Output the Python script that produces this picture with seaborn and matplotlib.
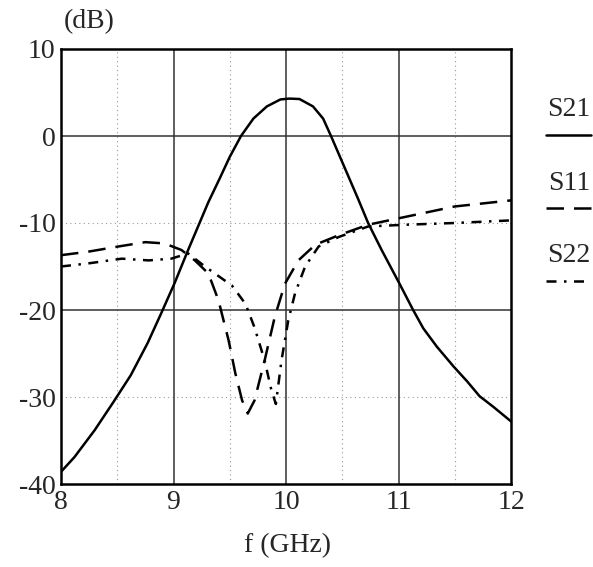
import numpy as np
import pandas as pd
import matplotlib
matplotlib.use("Agg")
import matplotlib.pyplot as plt
from matplotlib.lines import Line2D
import seaborn as sns

# ---- data ----
f_s21 = [8.0, 8.12, 8.30, 8.47, 8.62, 8.77, 8.89, 9.01, 9.13, 9.31, 9.41, 9.50, 9.60,
         9.71, 9.83, 9.95, 10.03, 10.12, 10.24, 10.33, 10.40, 10.48, 10.64, 10.73,
         10.85, 11.01, 11.13, 11.22, 11.34, 11.49, 11.61, 11.72, 11.84, 12.0]
s21 = [-38.6, -36.9, -33.8, -30.5, -27.5, -23.8, -20.4, -16.9, -13.1, -7.6, -4.9,
       -2.4, 0.0, 2.0, 3.4, 4.2, 4.3, 4.25, 3.4, 2.0, 0.0, -2.4, -7.2, -10.0, -13.1,
       -17.0, -20.0, -22.1, -24.2, -26.5, -28.2, -29.9, -31.1, -32.8]

f_s11 = [8.0, 8.24, 8.51, 8.75, 8.92, 9.07, 9.19, 9.31, 9.40, 9.49, 9.55, 9.61, 9.66,
         9.72, 9.81, 9.90, 9.99, 10.11, 10.26, 10.47, 10.73, 11.06, 11.5, 12.0]
s11 = [-13.7, -13.3, -12.7, -12.2, -12.35, -13.1, -14.3, -15.8, -18.9, -23.5, -27.3,
       -30.4, -31.9, -30.4, -25.8, -20.8, -17.0, -14.3, -12.5, -11.4, -10.2, -9.3, -8.1, -7.4]

f_s22 = [8.0, 8.24, 8.54, 8.78, 8.98, 9.13, 9.28, 9.52, 9.64, 9.72, 9.81, 9.87, 9.91,
         9.96, 10.02, 10.08, 10.17, 10.29, 10.47, 10.73, 11.06, 11.5, 12.0]
s22 = [-15.0, -14.65, -14.1, -14.3, -14.1, -13.5, -15.0, -17.2, -19.3, -22.0, -25.8,
       -29.2, -30.8, -25.8, -21.2, -18.1, -15.0, -12.7, -11.6, -10.4, -10.2, -10.0, -9.7]

x_ticks = [8, 9, 10, 11, 12]
y_ticks = [10, 0, -10, -20, -30, -40]
series_names = ["S21", "S11", "S22"]

df = pd.concat([
    pd.DataFrame({"f": f_s21, "dB": s21, "param": "S21"}),
    pd.DataFrame({"f": f_s11, "dB": s11, "param": "S11"}),
    pd.DataFrame({"f": f_s22, "dB": s22, "param": "S22"}),
], ignore_index=True)

sns.set_style("white")
plt.rcParams["font.family"] = ["Liberation Serif", "DejaVu Serif"]
plt.rcParams["lines.solid_joinstyle"] = "round"

fig = plt.figure(figsize=(5.93, 5.67), dpi=100)
ax = fig.add_axes([61/593, 1-484/567, 450/593, 435/567])

styles = {"S21": "-", "S11": (0, (7, 4)), "S22": (0, (4, 3, 1, 3))}

# grid
for v in [8.5, 9.5, 10.5, 11.5]:
    ax.axvline(v, color="#999999", lw=0.8, ls=(0, (1, 3)), zorder=0)
for v in [-10, -30]:
    ax.axhline(v, color="#999999", lw=0.8, ls=(0, (1, 3)), zorder=0)
for v in [9, 10, 11]:
    ax.axvline(v, color="#333333", lw=1.1, zorder=0)
for v in [0, -20]:
    ax.axhline(v, color="#333333", lw=1.1, zorder=0)

for name in series_names:
    sub = df[df["param"] == name]
    sns.lineplot(data=sub, x="f", y="dB", ax=ax, color="black", lw=1.8,
                 linestyle=styles[name], sort=False, estimator=None)

ax.set_xlim(8, 12)
ax.set_ylim(-40, 10)
ax.set_xticks(x_ticks)
ax.set_yticks(y_ticks)
ax.set_xticklabels([str(t) for t in x_ticks])
ax.set_yticklabels([str(t) for t in y_ticks])
ax.tick_params(length=0, labelsize=20, pad=4)
ax.set_xlabel("")
ax.set_ylabel("")
for sp in ax.spines.values():
    sp.set_color("black")
    sp.set_linewidth(1.8)

fig.text(89/593, 1-22/567, "(dB)", fontsize=20, ha="center", va="center")
fig.text(288/593, 1-546/567, "f (GHz)", fontsize=20, ha="center", va="center")

# legend (label above its line sample)
leg_y = [110, 183, 256]
for name, yy in zip(series_names, leg_y):
    fig.text(569/593, 1-yy/567, name, fontsize=20, ha="center", va="center")
    fig.add_artist(Line2D([546/593, 591/593], [1-(yy+25)/567]*2, color="black",
                          lw=1.8, linestyle=styles[name], transform=fig.transFigure))

fig.savefig("out.png", dpi=100)
